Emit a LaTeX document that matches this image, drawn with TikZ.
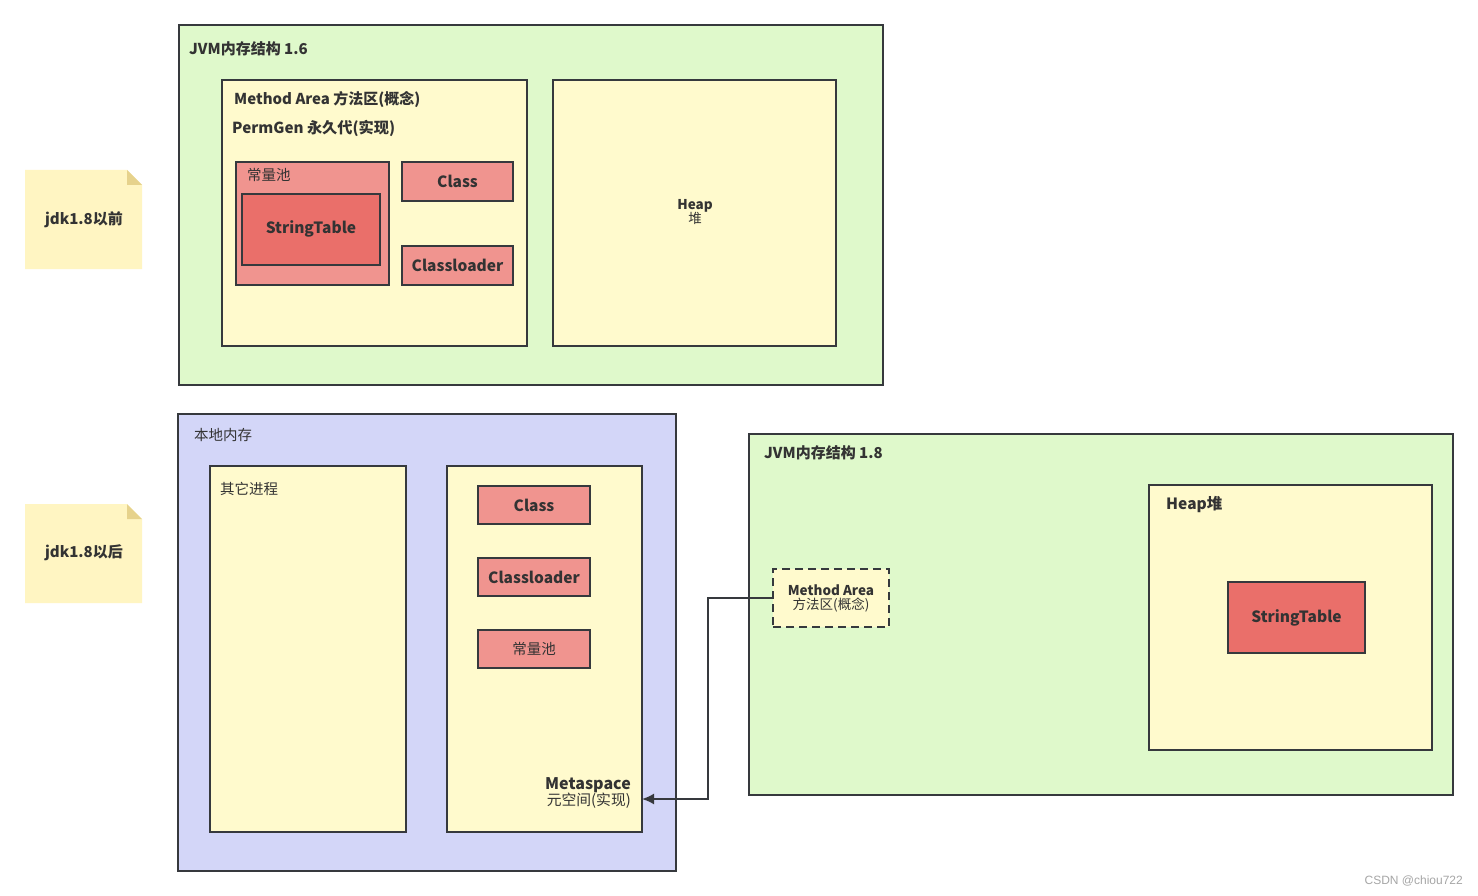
\documentclass[tikz,border=0pt]{standalone}
\usepackage{fontspec}
\usetikzlibrary{arrows.meta}
\setmainfont{Noto Sans CJK SC}
\newfontfamily\wmfont{Liberation Sans}
\definecolor{cgreen}{HTML}{DFF9CB}
\definecolor{clemon}{HTML}{FFFACD}
\definecolor{cblue}{HTML}{D3D6F8}
\definecolor{cpink}{HTML}{F0948F}
\definecolor{cred}{HTML}{EA6F6A}
\definecolor{cnote}{HTML}{FFF5C2}
\definecolor{cfold}{HTML}{E6D28C}
\definecolor{cstroke}{HTML}{36393D}
\definecolor{ctext}{HTML}{333333}
\tikzset{
  x=1pt,y=-1pt,
  box/.style={draw=cstroke,line width=1.8pt,inner sep=0pt},
  lbl/.style={text=ctext,font=\fontsize{15}{17}\selectfont\bfseries,inner sep=0pt},
  lblr/.style={text=ctext,font=\fontsize{14.5}{16}\selectfont,inner sep=0pt},
  small/.style={text=ctext,font=\fontsize{13.5}{15}\selectfont\bfseries,inner sep=0pt,align=center},
}
\begin{document}
\begin{tikzpicture}
\useasboundingbox[fill=white] (0,0) rectangle (1478,896);
% notes
\fill[cnote] (25,170) -- (127,170) -- (142,185) -- (142,269) -- (25,269) -- cycle;
\fill[cfold] (127,170) -- (142,185) -- (127,185) -- cycle;
\node[lbl] (n1) at (84,220) {jdk1.8以前};
\fill[cnote] (25,504) -- (127,504) -- (142,519) -- (142,603) -- (25,603) -- cycle;
\fill[cfold] (127,504) -- (142,519) -- (127,519) -- cycle;
\node[lbl] (n2) at (84,553) {jdk1.8以后};

% JVM 1.6
\draw[box,fill=cgreen] (179,25) rectangle (883,385);
\node[lbl,anchor=west] (t16) at (189,49) {JVM内存结构 1.6};
\draw[box,fill=clemon] (222,80) rectangle (527,346);
\node[lbl,anchor=west] (ma) at (234,99) {Method Area 方法区(概念)};
\node[lbl,anchor=west,font=\fontsize{15.2}{17}\selectfont\bfseries] (pg) at (232,128) {PermGen 永久代(实现)};
\draw[box,fill=cpink] (236,162) rectangle (389,285);
\node[lblr,anchor=west] (cp1) at (247,175) {常量池};
\draw[box,fill=cred] (242,194) rectangle (380,265);
\node[lbl,font=\fontsize{15.5}{17}\selectfont\bfseries] (st1) at (311,229) {StringTable};
\draw[box,fill=cpink] (402,162) rectangle (513,201);
\node[lbl,font=\fontsize{15.5}{17}\selectfont\bfseries] (cl1) at (457.5,181.5) {Class};
\draw[box,fill=cpink] (402,246) rectangle (513,285);
\node[lbl,font=\fontsize{15.5}{17}\selectfont\bfseries] (cld1) at (457.5,265.5) {Classloader};
\draw[box,fill=clemon] (553,80) rectangle (836,346);
\node[small] (heap1) at (695,212) {Heap\\[-1pt]{\mdseries 堆}};

% native memory
\draw[box,fill=cblue] (178,414) rectangle (676,871);
\node[lblr,anchor=west] (nm) at (194,435) {本地内存};
\draw[box,fill=clemon] (210,466) rectangle (406,832);
\node[lblr,anchor=west] (op) at (220,489) {其它进程};
\draw[box,fill=clemon] (447,466) rectangle (642,832);
\coordinate (metaR) at (642,799);
\draw[box,fill=cpink] (478,486) rectangle (590,524);
\node[lbl,font=\fontsize{15.5}{17}\selectfont\bfseries] (cl2) at (534,505) {Class};
\draw[box,fill=cpink] (478,558) rectangle (590,596);
\node[lbl,font=\fontsize{15.5}{17}\selectfont\bfseries] (cld2) at (534,577) {Classloader};
\draw[box,fill=cpink] (478,630) rectangle (590,668);
\node[lblr] (cp2) at (534,649) {常量池};
\node[lbl,anchor=east,align=right,font=\fontsize{16}{18}\selectfont\bfseries] (mt) at (631,793) {Metaspace\\[-2pt]{\mdseries\fontsize{14.8}{17}\selectfont 元空间(实现)}};

% JVM 1.8
\draw[box,fill=cgreen] (749,434) rectangle (1453,795);
\node[lbl,anchor=west] (t18) at (764,453) {JVM内存结构 1.8};
\node[draw=cstroke,line width=1.8pt,dash pattern=on 8pt off 5pt,fill=clemon,minimum width=116pt,minimum height=58pt,inner sep=0pt] (mad) at (831,598) {};
\node[small] at (mad.center) {Method Area\\[-1pt]{\mdseries 方法区(概念)}};
\draw[box,fill=clemon] (1149,485) rectangle (1432,750);
\node[lbl,anchor=west,font=\fontsize{15.5}{17}\selectfont\bfseries] (heap2) at (1166,504) {Heap堆};
\draw[box,fill=cred] (1228,582) rectangle (1365,653);
\node[lbl,font=\fontsize{15.5}{17}\selectfont\bfseries] (st2) at (1296.5,617.5) {StringTable};

% connector
\draw[draw=cstroke,line width=1.8pt,-{Latex[length=12pt,width=11pt]}] (mad.west) -- (708,598) |- (metaR);

\node[anchor=east,text=gray!70,font=\wmfont\fontsize{12}{14}\selectfont,inner sep=0pt] (wm) at (1463,881) {CSDN @chiou722};
\end{tikzpicture}
\end{document}
